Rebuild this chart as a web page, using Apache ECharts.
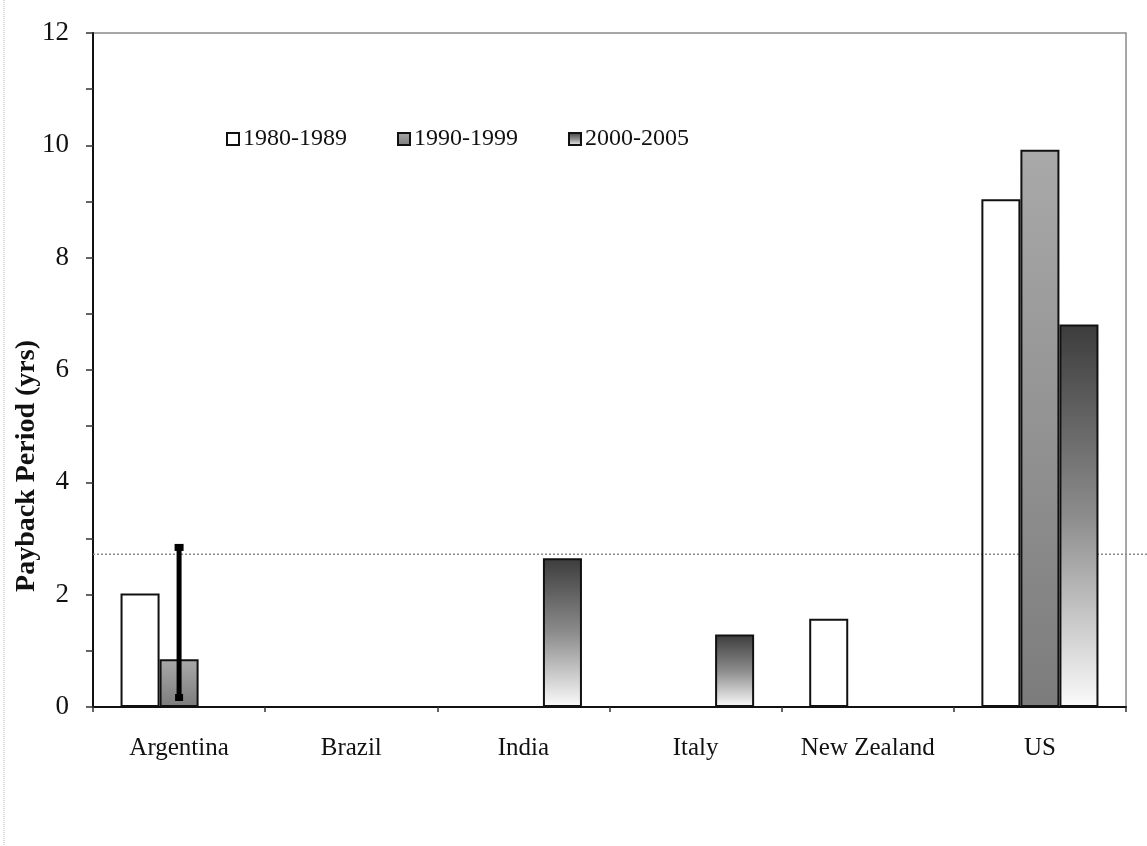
<!DOCTYPE html>
<html>
<head>
<meta charset="utf-8">
<script src="https://cdn.jsdelivr.net/npm/echarts@6/dist/echarts.min.js"></script>
<style>
  html, body { margin: 0; padding: 0; background: #fff; }
  #chart { width: 1147px; height: 846px; }
</style>
</head>
<body>
<div id="chart"></div>
<script>
// ---- data ----
const categories = ['Argentina', 'Brazil', 'India', 'Italy', 'New Zealand', 'US'];
const seriesNames = ['1980-1989', '1990-1999', '2000-2005'];
const s1980 = [2.02, null, null, null, 1.57, 9.04];
const s1990 = [0.85, null, null, null, null, 9.92];
const s2000 = [null, null, 2.65, 1.29, null, 6.81];
const errCategory = ['Argentina'];
const errLow = [0.16];
const errHigh = [2.85];
const refLine = 2.72;
const yMin = 0, yMax = 12, yInterval = 1;
const yTitle = 'Payback Period (yrs)';

const serif = "'Liberation Serif', 'Times New Roman', serif";

const chart = echarts.init(document.getElementById('chart'), null, { renderer: 'canvas' });

const grid = { left: 93, top: 33, right: 21, bottom: 139 };

const option = {
  backgroundColor: '#fff',
  animation: false,
  grid: { ...grid, show: true, borderColor: '#8a8a8a', borderWidth: 1.5, backgroundColor: 'transparent' },
  legend: {
    data: seriesNames.map(n => ({ name: n, icon: 'rect' })),
    left: 221, top: 122,
    itemWidth: 12, itemHeight: 12, itemGap: 50,
    textStyle: { fontFamily: serif, fontSize: 24, color: '#111', padding: [3, 0, 0, -1] },
    itemStyle: { borderColor: '#111', borderWidth: 2 }
  },
  xAxis: {
    type: 'category',
    data: categories,
    axisLine: { lineStyle: { color: '#111', width: 2 } },
    axisTick: { show: true, interval: 0, length: 5, lineStyle: { color: '#333', width: 1.5 } },
    axisLabel: { interval: 0, fontFamily: serif, fontSize: 25, color: '#111', margin: 29 },
    splitLine: { show: false }
  },
  yAxis: {
    type: 'value',
    min: yMin, max: yMax, interval: yInterval,
    axisLine: { show: true, lineStyle: { color: '#111', width: 2 } },
    axisTick: { show: true, length: 7, lineStyle: { color: '#333', width: 1.5 } },
    axisLabel: {
      fontFamily: serif, fontSize: 27, color: '#111', margin: 24,
      formatter: v => (v % 2 === 0 ? String(v) : '')
    },
    splitLine: { show: false }
  },
  series: [
    {
      name: seriesNames[0], type: 'bar', data: s1980,
      barGap: '0%', barCategoryGap: '32%',
      itemStyle: { color: 'rgba(255,255,255,0)', borderColor: '#111', borderWidth: 2 },
      z: 3
    },
    {
      name: seriesNames[1], type: 'bar', data: s1990,
      barGap: '0%', barCategoryGap: '32%',
      itemStyle: {
        color: new echarts.graphic.LinearGradient(0, 0, 0, 1, [
          { offset: 0, color: '#a9a9a9' }, { offset: 1, color: '#7c7c7c' }
        ]),
        borderColor: '#111', borderWidth: 2
      },
      z: 3
    },
    {
      name: seriesNames[2], type: 'bar', data: s2000,
      barGap: '0%', barCategoryGap: '32%',
      itemStyle: {
        color: new echarts.graphic.LinearGradient(0, 0, 0, 1, [
          { offset: 0, color: '#3c3c3c' }, { offset: 0.5, color: '#8c8c8c' }, { offset: 1, color: '#fbfbfb' }
        ]),
        borderColor: '#111', borderWidth: 2
      },
      z: 3
    },
    {
      name: 'error', type: 'custom',
      data: errCategory.map((c, i) => [categories.indexOf(c), errLow[i], errHigh[i]]),
      encode: { x: 0, y: [1, 2] },
      z: 5,
      renderItem: function (params, api) {
        const lo = api.coord([api.value(0), api.value(1)]);
        const hi = api.coord([api.value(0), api.value(2)]);
        const x = lo[0];
        return {
          type: 'group',
          children: [
            { type: 'line', shape: { x1: x, y1: hi[1], x2: x, y2: lo[1] }, style: { stroke: '#000', lineWidth: 5 } },
            { type: 'rect', shape: { x: x - 4.5, y: hi[1] - 3, width: 9, height: 7 }, style: { fill: '#000' } },
            { type: 'rect', shape: { x: x - 4, y: lo[1] - 4, width: 8, height: 7 }, style: { fill: '#000' } }
          ]
        };
      }
    }
  ],
  graphic: [
    {
      type: 'text', left: 13, top: 340, rotation: Math.PI / 2,
      style: { text: yTitle, font: "bold 28px 'Liberation Serif', 'Times New Roman', serif", fill: '#111' },
      silent: true
    },
    {
      type: 'line', shape: { x1: 4, y1: 0, x2: 4, y2: 846 },
      style: { stroke: '#b5b5b5', lineWidth: 1, lineDash: [1, 1] }, silent: true
    }
  ]
};

chart.setOption(option);

// dotted reference line, positioned through the value axis
const refY = chart.convertToPixel({ yAxisIndex: 0 }, refLine);
chart.setOption({
  graphic: [
    option.graphic[0], option.graphic[1],
    {
      type: 'line', z: 1,
      shape: { x1: grid.left, y1: refY, x2: 1147, y2: refY },
      style: { stroke: '#8a8a8a', lineWidth: 1.5, lineDash: [2, 2] }, silent: true
    }
  ]
});
</script>
</body>
</html>
